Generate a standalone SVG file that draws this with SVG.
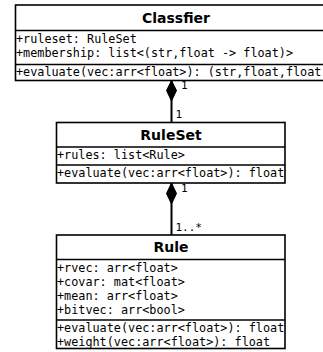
<svg xmlns="http://www.w3.org/2000/svg" width="323" height="352" viewBox="0 0 323 352">
<style>
.box{fill:#fff;stroke:#000;stroke-width:1.6}
.sep{stroke:#000;stroke-width:1.6}
.title{font-family:"DejaVu Sans",sans-serif;font-weight:bold;font-size:14px;text-anchor:middle;fill:#000}
.mem{font-family:"DejaVu Sans Mono",monospace;font-size:11.8px;fill:#000}
.lbl{font-family:"DejaVu Sans Mono",monospace;font-size:11px;fill:#000}
.conn{stroke:#000;stroke-width:2;fill:none}
.dia{fill:#000;stroke:#000;stroke-width:1}
</style>
<defs>
<clipPath id="cc"><rect x="15.5" y="5" width="321" height="75.5"/></clipPath>
<clipPath id="cr"><rect x="56.5" y="122.5" width="228.5" height="60.5"/></clipPath>
<clipPath id="cu"><rect x="56.5" y="235" width="228.5" height="113.5"/></clipPath>
</defs>
<g id="connectors">
<line class="conn" x1="171.5" y1="80.5" x2="171.5" y2="122.5"/>
<polygon class="dia" points="171.5,80.5 176.5,90.5 171.5,101 166.5,90.5"/>
<text class="lbl" x="181" y="89">1</text>
<text class="lbl" x="175.5" y="118">1</text>
<line class="conn" x1="171.5" y1="183" x2="171.5" y2="235"/>
<polygon class="dia" points="171.5,183 176.5,193.5 171.5,204 166.5,193.5"/>
<text class="lbl" x="181" y="192">1</text>
<text class="lbl" x="175.5" y="231">1..*</text>
</g>
<g id="Classfier">
<rect class="box" x="15.5" y="5" width="321" height="75.5"/>
<line class="sep" x1="15.5" y1="30.5" x2="336.5" y2="30.5"/>
<line class="sep" x1="15.5" y1="64.5" x2="336.5" y2="64.5"/>
<text class="title" x="176" y="22.5">Classfier</text>
<g clip-path="url(#cc)">
<text class="mem" x="16" y="43">+ruleset: RuleSet</text>
<text class="mem" x="16" y="57">+membership: list&lt;(str,float -&gt; float)&gt;</text>
<text class="mem" x="16" y="75.5">+evaluate(vec:arr&lt;float&gt;): (str,float,float)</text>
</g>
</g>
<g id="RuleSet">
<rect class="box" x="56.5" y="122.5" width="228.5" height="60.5"/>
<line class="sep" x1="56.5" y1="147" x2="285" y2="147"/>
<line class="sep" x1="56.5" y1="165" x2="285" y2="165"/>
<text class="title" x="171" y="140">RuleSet</text>
<g clip-path="url(#cr)">
<text class="mem" x="57" y="158.5">+rules: list&lt;Rule&gt;</text>
<text class="mem" x="57" y="176.5">+evaluate(vec:arr&lt;float&gt;): float</text>
</g>
</g>
<g id="Rule">
<rect class="box" x="56.5" y="235" width="228.5" height="113.5"/>
<line class="sep" x1="56.5" y1="259.5" x2="285" y2="259.5"/>
<line class="sep" x1="56.5" y1="320" x2="285" y2="320"/>
<text class="title" x="171" y="252">Rule</text>
<g clip-path="url(#cu)">
<text class="mem" x="57" y="272">+rvec: arr&lt;float&gt;</text>
<text class="mem" x="57" y="286">+covar: mat&lt;float&gt;</text>
<text class="mem" x="57" y="300">+mean: arr&lt;float&gt;</text>
<text class="mem" x="57" y="314">+bitvec: arr&lt;bool&gt;</text>
<text class="mem" x="57" y="331.5">+evaluate(vec:arr&lt;float&gt;): float</text>
<text class="mem" x="57" y="345.5">+weight(vec:arr&lt;float&gt;): float</text>
</g>
</g>
</svg>
